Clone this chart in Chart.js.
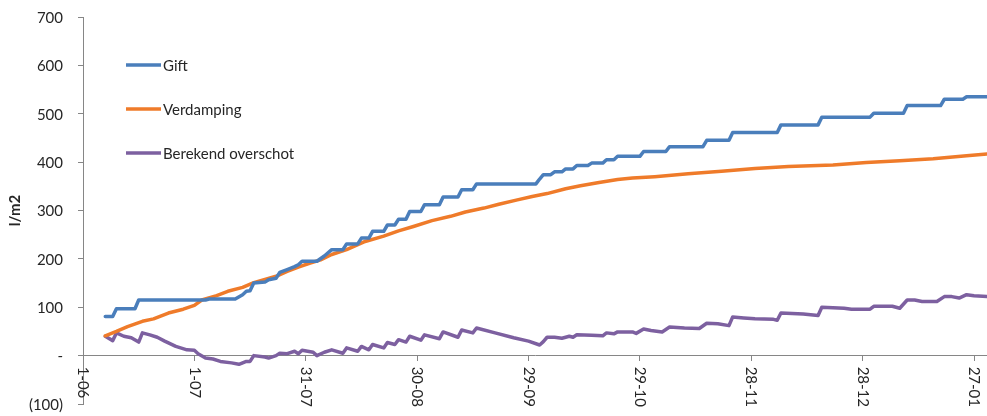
<!DOCTYPE html>
<html>
<head>
<meta charset="utf-8">
<script src="https://cdn.jsdelivr.net/npm/chart.js@4.4.0/dist/chart.umd.min.js"></script>
<style>
  html, body { margin: 0; padding: 0; background: #fff; }
  #wrap { width: 987px; height: 416px; }
</style>
</head>
<body>
<div id="wrap"><canvas id="myChart" width="987" height="416"></canvas></div>
<script>
// x tick labels, one every 30 days starting 1-06
const tickLabels = ["1-06", "1-07", "31-07", "30-08", "29-09", "29-10", "28-11", "28-12", "27-01"];

// Gift (days since 1-06, l/m2)
const giftDays = [6, 8, 9, 14, 15, 33, 34, 41, 43, 44, 45, 46, 49, 50, 52, 53, 55, 57, 58, 59, 63, 65, 67, 70, 71, 74, 75, 77, 78, 81, 82, 84, 85, 87, 88, 91, 92, 96, 97, 101, 102, 105, 106, 122, 123, 124, 126, 127, 129, 130, 132, 133, 136, 137, 140, 141, 143, 144, 150, 151, 157, 158, 167, 168, 174, 175, 187, 188, 198, 199, 212, 213, 221, 222, 231, 232, 237, 238, 243.5];
const giftValues = [81, 81, 97, 97, 115, 115, 117, 117, 126, 133, 134, 150, 152, 157, 160, 172, 178, 184, 188, 195, 195, 206, 219, 219, 231, 231, 243, 243, 257, 257, 270, 270, 282, 282, 298, 298, 312, 312, 328, 328, 343, 343, 355, 355, 365, 374, 374, 380, 380, 386, 386, 393, 393, 398, 398, 405, 405, 412, 412, 422, 422, 432, 432, 445, 445, 461, 461, 477, 477, 493, 493, 501, 501, 517, 517, 530, 530, 535, 535];

// Verdamping
const evapDays = [6, 9, 12, 16, 19, 23, 27, 30, 32, 36, 39, 43, 46, 52, 55, 58, 61, 64, 67, 71, 76, 81, 85, 89, 94, 99, 103, 108, 112, 117, 121, 125, 130, 134, 139, 144, 148, 154, 163, 172, 181, 190, 202, 211, 220, 229, 238, 243.5];
const evapValues = [41, 50, 60, 71, 76, 88, 96, 104, 115, 124, 133, 141, 151, 164, 174, 183, 191, 198, 209, 219, 236, 247, 258, 267, 279, 288, 297, 305, 313, 322, 329, 335, 345, 351, 358, 364, 367, 370, 376, 381, 387, 391, 394, 399, 403, 407, 413, 417];

// Berekend overschot
const surplusDays = [6, 8, 9, 11, 13, 15, 16, 18, 20, 22, 25, 28, 30, 31, 33, 35, 37, 40, 42, 44, 45, 46, 49, 50, 52, 53, 55, 57, 58, 59, 62, 63, 65, 67, 70, 71, 74, 75, 77, 78, 81, 82, 84, 85, 87, 88, 91, 92, 96, 97, 101, 102, 105, 106, 111, 116, 120, 123, 124, 125, 127, 129, 131, 132, 133, 137, 140, 141, 143, 144, 148, 149, 151, 153, 156, 158, 162, 166, 168, 171, 174, 175, 178, 181, 186, 187, 188, 194, 198, 199, 205, 207, 212, 213, 218, 220, 222, 224, 226, 230, 232, 234, 236, 238, 240, 243.5];
const surplusValues = [40, 31, 47, 40, 37, 28, 47, 43, 38, 30, 19, 12, 11, 4, -5, -7, -12, -15, -18, -12, -12, 0, -3, -5, 0, 5, 4, 9, 4, 11, 7, 0, 7, 12, 5, 16, 9, 19, 12, 23, 16, 27, 23, 33, 28, 40, 32, 43, 35, 49, 38, 53, 47, 57, 47, 37, 30, 22, 29, 38, 38, 36, 40, 38, 43, 42, 41, 47, 45, 49, 49, 46, 55, 52, 49, 59, 57, 56, 67, 66, 62, 80, 78, 76, 75, 73, 88, 86, 83, 100, 98, 96, 96, 102, 102, 98, 115, 115, 112, 112, 122, 122, 119, 126, 124, 122];

const toPoints = (days, values) => days.map((d, i) => ({ x: d, y: values[i] }));

const textColor = "#262626";
const axisColor = "#868686";
const fontFamily = "Lato, 'Open Sans', sans-serif";

// accounting style like Excel: (100), -, 100
const yFormat = (v) => v < 0 ? "(" + Math.abs(v) + ")" : (v === 0 ? "-" : String(v));

// tick labels drawn by hand: x ones read top to bottom,
// y ones without the extra padding chart.js adds above/below
const axisLabels = {
    id: "axisLabels",
    afterDraw(chart) {
        const ctx = chart.ctx;
        const xs = chart.scales.x;
        const ys = chart.scales.y;
        const y0 = ys.getPixelForValue(0);
        ctx.save();
        ctx.fillStyle = textColor;
        ctx.font = "15px " + fontFamily;
        ctx.textBaseline = "middle";
        ctx.textAlign = "left";
        xs.ticks.forEach((t) => {
            const label = tickLabels[Math.round(t.value / 30)];
            if (label === undefined) return;
            ctx.save();
            ctx.translate(xs.getPixelForValue(t.value), y0 + 11);
            ctx.rotate(Math.PI / 2);
            ctx.fillText(label, 0, 0);
            ctx.restore();
        });
        ctx.textAlign = "right";
        ys.ticks.forEach((t) => {
            ctx.fillText(yFormat(t.value), ys.right - 20, ys.getPixelForValue(t.value) + 1);
        });
        ctx.restore();
    }
};

// legend sits inside the plot, top left
const insideLegend = {
    id: "insideLegend",
    afterDraw(chart) {
        const ctx = chart.ctx;
        const area = chart.chartArea;
        ctx.save();
        ctx.font = "15px " + fontFamily;
        ctx.textBaseline = "middle";
        ctx.fillStyle = textColor;
        chart.data.datasets.forEach((ds, i) => {
            const y = area.top + 48 + i * 44;
            const x = area.left + 43;
            ctx.strokeStyle = ds.borderColor;
            ctx.lineWidth = 3.5;
            ctx.beginPath();
            ctx.moveTo(x, y);
            ctx.lineTo(x + 35, y);
            ctx.stroke();
            ctx.fillText(ds.label, x + 37, y + 1);
        });
        ctx.restore();
    }
};

const ctx = document.getElementById("myChart");
new Chart(ctx, {
    type: "line",
    data: {
        datasets: [
            { label: "Gift", data: toPoints(giftDays, giftValues), borderColor: "#4a7ebb" },
            { label: "Verdamping", data: toPoints(evapDays, evapValues), borderColor: "#ef7b2a" },
            { label: "Berekend overschot", data: toPoints(surplusDays, surplusValues), borderColor: "#7d60a0" }
        ]
    },
    options: {
        responsive: false,
        animation: false,
        layout: { autoPadding: false, padding: { top: 17, bottom: 12, left: 0, right: 0 } },
        elements: {
            line: { borderWidth: 3.5, tension: 0, borderCapStyle: "round", borderJoinStyle: "round" },
            point: { radius: 0 }
        },
        plugins: {
            legend: { display: false },
            tooltip: { enabled: false }
        },
        scales: {
            x: {
                type: "linear",
                position: { y: 0 },
                min: 0,
                max: 243.5,
                ticks: { display: false, stepSize: 30, includeBounds: false },
                grid: { drawOnChartArea: false, tickLength: 5, color: axisColor },
                border: { color: axisColor, width: 1 }
            },
            y: {
                min: -100,
                max: 700,
                afterFit(scale) { scale.width = 83; },
                ticks: { display: false, stepSize: 100 },
                title: {
                    display: true,
                    text: "l/m2",
                    color: textColor,
                    font: { family: fontFamily, size: 15, weight: "bold" },
                    padding: { top: 6, bottom: 0 }
                },
                grid: { drawOnChartArea: false, tickLength: 5, color: axisColor },
                border: { color: axisColor, width: 1 }
            }
        }
    },
    plugins: [axisLabels, insideLegend]
});
</script>
</body>
</html>
